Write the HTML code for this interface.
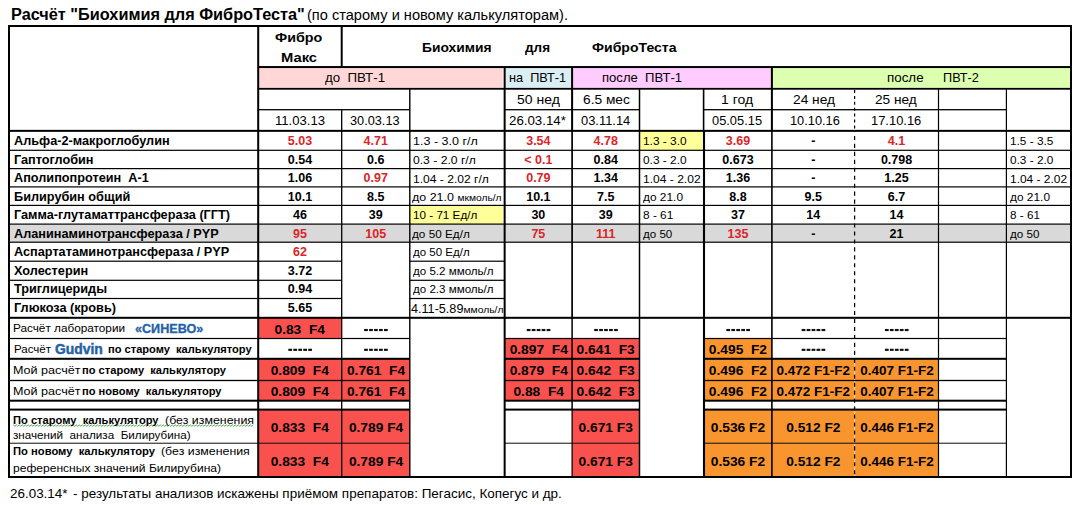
<!DOCTYPE html><html><head><meta charset="utf-8"><style>
html,body{margin:0;padding:0;background:#fff;}body{width:1079px;height:505px;position:relative;overflow:hidden;font-family:"Liberation Sans",sans-serif;}
.f,.l,.t{position:absolute;}.t{white-space:nowrap;line-height:1;}
.b{font-weight:bold;}small{font-size:82%;}
</style></head><body>
<svg class="f" style="left:0;top:0" width="1079" height="505" viewBox="0 0 1079 505">
<rect x="258.20" y="67.05" width="244.55" height="21.75" fill="#FFD7D7"/>
<rect x="504.65" y="67.05" width="67.45" height="21.75" fill="#DAEEF3"/>
<rect x="572.10" y="67.05" width="199.80" height="21.75" fill="#FFCCFF"/>
<rect x="771.90" y="67.05" width="299.10" height="21.75" fill="#DCFFB0"/>
<rect x="9.00" y="224.10" width="1062.00" height="18.10" fill="#D9D9D9"/>
<rect x="639.50" y="130.85" width="63.00" height="19.45" fill="#FFFF99"/>
<rect x="409.80" y="205.40" width="93.35" height="18.70" fill="#FFFF99"/>
<rect x="258.20" y="317.80" width="83.50" height="20.70" fill="#F9524E"/>
<rect x="504.65" y="338.50" width="134.85" height="20.30" fill="#F9524E"/>
<rect x="704.00" y="338.50" width="67.90" height="20.30" fill="#F9952F"/>
<rect x="258.20" y="358.80" width="151.60" height="21.70" fill="#F9524E"/>
<rect x="504.65" y="358.80" width="134.85" height="21.70" fill="#F9524E"/>
<rect x="704.00" y="358.80" width="234.50" height="21.70" fill="#F9952F"/>
<rect x="258.20" y="380.50" width="151.60" height="20.20" fill="#F9524E"/>
<rect x="504.65" y="380.50" width="134.85" height="20.20" fill="#F9524E"/>
<rect x="704.00" y="380.50" width="234.50" height="20.20" fill="#F9952F"/>
<rect x="258.20" y="409.60" width="151.60" height="33.60" fill="#F9524E"/>
<rect x="572.10" y="409.60" width="67.40" height="33.60" fill="#F9524E"/>
<rect x="704.00" y="409.60" width="234.50" height="33.60" fill="#F9952F"/>
<rect x="258.20" y="443.20" width="151.60" height="33.80" fill="#F9524E"/>
<rect x="572.10" y="443.20" width="67.40" height="33.80" fill="#F9524E"/>
<rect x="704.00" y="443.20" width="234.50" height="33.80" fill="#F9952F"/>
<rect x="364.13" y="328.95" width="3.75" height="2.15" fill="#111"/>
<rect x="369.11" y="328.95" width="3.75" height="2.15" fill="#111"/>
<rect x="374.07" y="328.95" width="3.75" height="2.15" fill="#111"/>
<rect x="379.05" y="328.95" width="3.75" height="2.15" fill="#111"/>
<rect x="384.01" y="328.95" width="3.75" height="2.15" fill="#111"/>
<rect x="526.76" y="328.95" width="3.75" height="2.15" fill="#111"/>
<rect x="531.73" y="328.95" width="3.75" height="2.15" fill="#111"/>
<rect x="536.70" y="328.95" width="3.75" height="2.15" fill="#111"/>
<rect x="541.67" y="328.95" width="3.75" height="2.15" fill="#111"/>
<rect x="546.64" y="328.95" width="3.75" height="2.15" fill="#111"/>
<rect x="594.18" y="328.95" width="3.75" height="2.15" fill="#111"/>
<rect x="599.15" y="328.95" width="3.75" height="2.15" fill="#111"/>
<rect x="604.12" y="328.95" width="3.75" height="2.15" fill="#111"/>
<rect x="609.09" y="328.95" width="3.75" height="2.15" fill="#111"/>
<rect x="614.06" y="328.95" width="3.75" height="2.15" fill="#111"/>
<rect x="726.34" y="328.95" width="3.75" height="2.15" fill="#111"/>
<rect x="731.31" y="328.95" width="3.75" height="2.15" fill="#111"/>
<rect x="736.28" y="328.95" width="3.75" height="2.15" fill="#111"/>
<rect x="741.25" y="328.95" width="3.75" height="2.15" fill="#111"/>
<rect x="746.22" y="328.95" width="3.75" height="2.15" fill="#111"/>
<rect x="801.63" y="328.95" width="3.75" height="2.15" fill="#111"/>
<rect x="806.61" y="328.95" width="3.75" height="2.15" fill="#111"/>
<rect x="811.58" y="328.95" width="3.75" height="2.15" fill="#111"/>
<rect x="816.54" y="328.95" width="3.75" height="2.15" fill="#111"/>
<rect x="821.51" y="328.95" width="3.75" height="2.15" fill="#111"/>
<rect x="884.93" y="328.95" width="3.75" height="2.15" fill="#111"/>
<rect x="889.90" y="328.95" width="3.75" height="2.15" fill="#111"/>
<rect x="894.88" y="328.95" width="3.75" height="2.15" fill="#111"/>
<rect x="899.84" y="328.95" width="3.75" height="2.15" fill="#111"/>
<rect x="904.81" y="328.95" width="3.75" height="2.15" fill="#111"/>
<rect x="288.33" y="348.75" width="3.75" height="2.15" fill="#111"/>
<rect x="293.31" y="348.75" width="3.75" height="2.15" fill="#111"/>
<rect x="298.27" y="348.75" width="3.75" height="2.15" fill="#111"/>
<rect x="303.25" y="348.75" width="3.75" height="2.15" fill="#111"/>
<rect x="308.21" y="348.75" width="3.75" height="2.15" fill="#111"/>
<rect x="364.13" y="348.75" width="3.75" height="2.15" fill="#111"/>
<rect x="369.11" y="348.75" width="3.75" height="2.15" fill="#111"/>
<rect x="374.07" y="348.75" width="3.75" height="2.15" fill="#111"/>
<rect x="379.05" y="348.75" width="3.75" height="2.15" fill="#111"/>
<rect x="384.01" y="348.75" width="3.75" height="2.15" fill="#111"/>
<rect x="801.63" y="348.75" width="3.75" height="2.15" fill="#111"/>
<rect x="806.61" y="348.75" width="3.75" height="2.15" fill="#111"/>
<rect x="811.58" y="348.75" width="3.75" height="2.15" fill="#111"/>
<rect x="816.54" y="348.75" width="3.75" height="2.15" fill="#111"/>
<rect x="821.51" y="348.75" width="3.75" height="2.15" fill="#111"/>
<rect x="884.93" y="348.75" width="3.75" height="2.15" fill="#111"/>
<rect x="889.90" y="348.75" width="3.75" height="2.15" fill="#111"/>
<rect x="894.88" y="348.75" width="3.75" height="2.15" fill="#111"/>
<rect x="899.84" y="348.75" width="3.75" height="2.15" fill="#111"/>
<rect x="904.81" y="348.75" width="3.75" height="2.15" fill="#111"/>
<rect x="258.20" y="66.05" width="812.80" height="2.00" fill="#000"/>
<rect x="258.20" y="87.90" width="812.80" height="1.80" fill="#000"/>
<rect x="258.20" y="109.05" width="151.60" height="1.30" fill="#000"/>
<rect x="504.65" y="109.05" width="134.85" height="1.30" fill="#000"/>
<rect x="704.00" y="109.05" width="302.40" height="1.30" fill="#000"/>
<rect x="9.00" y="129.85" width="1062.00" height="2.00" fill="#000"/>
<rect x="9.00" y="149.70" width="1062.00" height="1.20" fill="#000"/>
<rect x="9.00" y="168.00" width="1062.00" height="1.20" fill="#000"/>
<rect x="9.00" y="186.30" width="1062.00" height="1.20" fill="#000"/>
<rect x="9.00" y="204.80" width="1062.00" height="1.20" fill="#000"/>
<rect x="9.00" y="223.50" width="1062.00" height="1.20" fill="#000"/>
<rect x="9.00" y="241.60" width="1062.00" height="1.20" fill="#000"/>
<rect x="9.00" y="260.60" width="332.70" height="1.20" fill="#000"/>
<rect x="409.80" y="260.60" width="94.85" height="1.20" fill="#000"/>
<rect x="9.00" y="279.70" width="332.70" height="1.20" fill="#000"/>
<rect x="409.80" y="279.70" width="94.85" height="1.20" fill="#000"/>
<rect x="9.00" y="297.90" width="332.70" height="1.20" fill="#000"/>
<rect x="409.80" y="297.90" width="94.85" height="1.20" fill="#000"/>
<rect x="9.00" y="316.80" width="1062.00" height="2.00" fill="#000"/>
<rect x="9.00" y="337.90" width="400.80" height="1.20" fill="#000"/>
<rect x="504.65" y="337.90" width="134.85" height="1.20" fill="#000"/>
<rect x="704.00" y="337.90" width="302.40" height="1.20" fill="#000"/>
<rect x="9.00" y="357.80" width="400.80" height="2.00" fill="#000"/>
<rect x="504.65" y="357.80" width="134.85" height="2.00" fill="#000"/>
<rect x="704.00" y="357.80" width="302.40" height="2.00" fill="#000"/>
<rect x="9.00" y="379.85" width="400.80" height="1.30" fill="#000"/>
<rect x="504.65" y="379.85" width="134.85" height="1.30" fill="#000"/>
<rect x="704.00" y="379.85" width="302.40" height="1.30" fill="#000"/>
<rect x="9.00" y="399.70" width="400.80" height="2.00" fill="#000"/>
<rect x="504.65" y="399.70" width="134.85" height="2.00" fill="#000"/>
<rect x="704.00" y="399.70" width="302.40" height="2.00" fill="#000"/>
<rect x="9.00" y="408.60" width="400.80" height="2.00" fill="#000"/>
<rect x="504.65" y="408.60" width="134.85" height="2.00" fill="#000"/>
<rect x="704.00" y="408.60" width="302.40" height="2.00" fill="#000"/>
<rect x="9.00" y="442.72" width="400.80" height="0.95" fill="#000"/>
<rect x="504.65" y="442.72" width="134.85" height="0.95" fill="#000"/>
<rect x="704.00" y="442.72" width="302.40" height="0.95" fill="#000"/>
<rect x="257.20" y="26.00" width="2.00" height="451.00" fill="#000"/>
<rect x="340.70" y="26.00" width="2.00" height="41.05" fill="#000"/>
<rect x="341.05" y="109.70" width="1.30" height="367.30" fill="#000"/>
<rect x="409.10" y="88.80" width="1.40" height="388.20" fill="#000"/>
<rect x="503.65" y="67.05" width="2.00" height="409.95" fill="#000"/>
<rect x="571.10" y="67.05" width="2.00" height="63.80" fill="#000"/>
<rect x="571.25" y="130.85" width="1.70" height="186.95" fill="#000"/>
<rect x="571.35" y="317.80" width="1.50" height="91.80" fill="#000"/>
<rect x="571.48" y="409.60" width="1.25" height="67.40" fill="#000"/>
<rect x="638.75" y="88.80" width="1.50" height="388.20" fill="#000"/>
<rect x="702.80" y="88.80" width="1.60" height="42.05" fill="#000"/>
<rect x="702.95" y="130.85" width="2.10" height="346.15" fill="#000"/>
<rect x="770.90" y="67.05" width="2.00" height="63.80" fill="#000"/>
<rect x="771.10" y="130.85" width="1.60" height="346.15" fill="#000"/>
<line x1="854.60" y1="90.00" x2="854.60" y2="129.85" stroke="#000" stroke-width="1.20" stroke-dasharray="3 2.9"/>
<rect x="854.05" y="359.60" width="1.10" height="20.30" fill="#FBD6A6"/>
<rect x="854.05" y="381.30" width="1.10" height="18.80" fill="#FBD6A6"/>
<rect x="854.05" y="410.40" width="1.10" height="32.20" fill="#FBD6A6"/>
<rect x="854.05" y="444.00" width="1.10" height="32.40" fill="#FBD6A6"/>
<line x1="854.60" y1="135.90" x2="854.60" y2="477.00" stroke="#000" stroke-width="1.25" stroke-dasharray="4.1 3.86"/>
<rect x="937.90" y="88.80" width="1.20" height="388.20" fill="#000"/>
<rect x="1005.80" y="88.80" width="1.20" height="388.20" fill="#000"/>
<rect x="8.00" y="25.00" width="1064.00" height="2.00" fill="#000"/>
<rect x="8.00" y="476.00" width="1064.00" height="2.00" fill="#000"/>
<rect x="8.00" y="26.00" width="2.00" height="451.00" fill="#000"/>
<rect x="1070.00" y="26.00" width="2.00" height="451.00" fill="#000"/>
<polyline points="13.3,424.9 14.8,426.3 16.3,424.9 17.8,426.3 19.3,424.9 20.8,426.3 22.3,424.9 23.8,426.3 25.3,424.9 26.8,426.3 28.3,424.9 29.8,426.3 31.3,424.9 32.8,426.3 34.3,424.9 35.8,426.3 37.3,424.9 38.8,426.3 40.3,424.9 41.8,426.3 43.3,424.9 44.8,426.3 46.3,424.9 47.8,426.3 49.3,424.9 50.8,426.3 52.3,424.9 53.8,426.3 55.3,424.9 56.8,426.3 58.3,424.9 59.8,426.3 61.3,424.9 62.8,426.3 64.3,424.9 65.8,426.3 67.3,424.9 68.8,426.3 70.3,424.9 71.8,426.3 73.3,424.9 74.8,426.3 76.3,424.9 77.8,426.3 79.3,424.9 80.8,426.3 82.3,424.9 83.8,426.3 85.3,424.9 86.8,426.3 88.3,424.9 89.8,426.3 91.3,424.9 92.8,426.3 94.3,424.9 95.8,426.3 97.3,424.9 98.8,426.3 100.3,424.9 101.8,426.3 103.3,424.9 104.8,426.3 106.3,424.9 107.8,426.3 109.3,424.9 110.8,426.3 112.3,424.9 113.8,426.3 115.3,424.9 116.8,426.3 118.3,424.9 119.8,426.3 121.3,424.9 122.8,426.3 124.3,424.9 125.8,426.3 127.3,424.9 128.8,426.3 130.3,424.9 131.8,426.3 133.3,424.9 134.8,426.3 136.3,424.9 137.8,426.3 139.3,424.9 140.8,426.3 142.3,424.9 143.8,426.3 145.3,424.9 146.8,426.3 148.3,424.9 149.8,426.3 151.3,424.9 152.8,426.3 154.3,424.9 155.8,426.3 157.3,424.9 158.8,426.3 160.3,424.9 161.8,426.3 163.3,424.9 164.8,426.3 166.3,424.9 167.8,426.3 169.3,424.9 170.8,426.3 172.3,424.9 173.8,426.3 175.3,424.9 176.8,426.3 178.3,424.9 179.8,426.3 181.3,424.9 182.8,426.3 184.3,424.9 185.8,426.3 187.3,424.9 188.8,426.3 190.3,424.9 191.8,426.3 193.3,424.9 194.8,426.3 196.3,424.9 197.8,426.3 199.3,424.9 200.8,426.3 202.3,424.9 203.8,426.3 205.3,424.9 206.8,426.3 208.3,424.9 209.8,426.3 211.3,424.9 212.8,426.3 214.3,424.9 215.8,426.3 217.3,424.9 218.8,426.3 220.3,424.9 221.8,426.3 223.3,424.9 224.8,426.3 226.3,424.9 227.8,426.3 229.3,424.9 230.8,426.3 232.3,424.9 233.8,426.3 235.3,424.9 236.8,426.3 238.3,424.9 239.8,426.3 241.3,424.9 242.8,426.3 244.3,424.9 245.8,426.3 247.3,424.9 248.8,426.3 250.3,424.9 251.8,426.3 253.3,424.9" fill="none" stroke="#3f9a3f" stroke-width="0.9"/>
</svg>
<div class="t b" id="t0" style="font-size:16px;color:#000;left:10.90px;text-align:left;top:6.50px;transform:scaleX(1.0177);transform-origin:0 50%;">Расчёт "Биохимия для ФиброТеста"</div>
<div class="t" id="t1" style="font-size:14px;color:#000;left:307.40px;text-align:left;top:8.00px;transform:scaleX(1.0424);transform-origin:0 50%;">(по старому и новому калькуляторам).</div>
<div class="t b" id="t2" style="font-size:13.3px;color:#000;left:275.10px;text-align:left;top:30.85px;transform:scaleX(1.0754);transform-origin:0 50%;">Фибро</div>
<div class="t b" id="t3" style="font-size:13.3px;color:#000;left:281.35px;text-align:left;top:50.85px;transform:scaleX(1.1087);transform-origin:0 50%;">Макс</div>
<div class="t b" id="t4" style="font-size:13.3px;color:#000;left:421.60px;text-align:left;top:40.85px;transform:scaleX(1.0400);transform-origin:0 50%;">Биохимия</div>
<div class="t b" id="t5" style="font-size:13.3px;color:#000;left:524.60px;text-align:left;top:40.85px;transform:scaleX(1.0160);transform-origin:0 50%;">для</div>
<div class="t b" id="t6" style="font-size:13.3px;color:#000;left:592.10px;text-align:left;top:40.85px;transform:scaleX(1.0573);transform-origin:0 50%;">ФиброТеста</div>
<div class="t" id="t7" style="font-size:13px;color:#000;left:324.60px;text-align:left;top:71.00px;transform:scaleX(1.0232);transform-origin:0 50%;">до&nbsp;&nbsp;ПВТ-1</div>
<div class="t" id="t8" style="font-size:13px;color:#000;left:509.10px;text-align:left;top:71.00px;transform:scaleX(0.9789);transform-origin:0 50%;">на&nbsp;&nbsp;ПВТ-1</div>
<div class="t" id="t9" style="font-size:13px;color:#000;left:602.10px;text-align:left;top:71.00px;transform:scaleX(1.0073);transform-origin:0 50%;">после&nbsp;&nbsp;ПВТ-1</div>
<div class="t" id="t10" style="font-size:13px;color:#000;left:887.10px;text-align:left;top:71.00px;transform:scaleX(1.0283);transform-origin:0 50%;">после</div>
<div class="t" id="t11" style="font-size:13px;color:#000;left:942.60px;text-align:left;top:71.00px;transform:scaleX(0.9766);transform-origin:0 50%;">ПВТ-2</div>
<div class="t" id="t12" style="font-size:13px;color:#000;left:516.60px;text-align:left;top:93.00px;transform:scaleX(1.0759);transform-origin:0 50%;">50 нед</div>
<div class="t" id="t13" style="font-size:13px;color:#000;left:582.85px;text-align:left;top:93.00px;transform:scaleX(1.0550);transform-origin:0 50%;">6.5 мес</div>
<div class="t" id="t14" style="font-size:13px;color:#000;left:720.85px;text-align:left;top:93.00px;transform:scaleX(1.0745);transform-origin:0 50%;">1 год</div>
<div class="t" id="t15" style="font-size:13px;color:#000;left:793.35px;text-align:left;top:93.00px;transform:scaleX(1.0570);transform-origin:0 50%;">24 нед</div>
<div class="t" id="t16" style="font-size:13px;color:#000;left:875.35px;text-align:left;top:93.00px;transform:scaleX(1.0507);transform-origin:0 50%;">25 нед</div>
<div class="t" id="t17" style="font-size:13px;color:#000;left:274.60px;text-align:left;top:114.00px;transform:scaleX(1.0082);transform-origin:0 50%;">11.03.13</div>
<div class="t" id="t18" style="font-size:13px;color:#000;left:350.35px;text-align:left;top:114.00px;transform:scaleX(0.9791);transform-origin:0 50%;">30.03.13</div>
<div class="t" id="t19" style="font-size:13px;color:#000;left:509.10px;text-align:left;top:114.00px;transform:scaleX(1.0203);transform-origin:0 50%;">26.03.14*</div>
<div class="t" id="t20" style="font-size:13px;color:#000;left:581.35px;text-align:left;top:114.00px;transform:scaleX(0.9931);transform-origin:0 50%;">03.11.14</div>
<div class="t" id="t21" style="font-size:13px;color:#000;left:712.10px;text-align:left;top:114.00px;transform:scaleX(0.9889);transform-origin:0 50%;">05.05.15</div>
<div class="t" id="t22" style="font-size:13px;color:#000;left:789.60px;text-align:left;top:114.00px;transform:scaleX(0.9840);transform-origin:0 50%;">10.10.16</div>
<div class="t" id="t23" style="font-size:13px;color:#000;left:870.85px;text-align:left;top:114.00px;transform:scaleX(0.9939);transform-origin:0 50%;">17.10.16</div>
<div class="t b" id="t24" style="font-size:12.2px;color:#000;left:14.00px;text-align:left;top:134.90px;transform:scaleX(1.0420);transform-origin:0 50%;">Альфа-2-макроглобулин</div>
<div class="t b" id="t25" style="font-size:12.5px;color:#DB2428;left:258.20px;width:83.50px;text-align:center;top:134.75px;">5.03</div>
<div class="t b" id="t26" style="font-size:12.5px;color:#DB2428;left:341.70px;width:68.10px;text-align:center;top:134.75px;">4.71</div>
<div class="t" id="t27" style="font-size:11.2px;color:#000;left:412.60px;text-align:left;top:136.40px;transform:scaleX(1.1197);transform-origin:0 50%;">1.3 - 3.0 г/л</div>
<div class="t b" id="t28" style="font-size:12.5px;color:#DB2428;left:504.65px;width:67.45px;text-align:center;top:134.75px;">3.54</div>
<div class="t b" id="t29" style="font-size:12.5px;color:#DB2428;left:572.10px;width:67.40px;text-align:center;top:134.75px;">4.78</div>
<div class="t" id="t30" style="font-size:11.2px;color:#000;left:643.40px;text-align:left;top:136.40px;transform:scaleX(1.0622);transform-origin:0 50%;">1.3 - 3.0</div>
<div class="t b" id="t31" style="font-size:12.5px;color:#DB2428;left:704.00px;width:67.90px;text-align:center;top:134.75px;">3.69</div>
<div class="t b" id="t32" style="font-size:12.5px;color:#000;left:771.90px;width:82.70px;text-align:center;top:134.75px;">-</div>
<div class="t b" id="t33" style="font-size:12.5px;color:#DB2428;left:854.60px;width:83.90px;text-align:center;top:134.75px;">4.1</div>
<div class="t" id="t34" style="font-size:11.2px;color:#000;left:1010.10px;text-align:left;top:136.40px;transform:scaleX(1.0549);transform-origin:0 50%;">1.5 - 3.5</div>
<div class="t b" id="t35" style="font-size:12.2px;color:#000;left:14.00px;text-align:left;top:153.90px;transform:scaleX(1.0420);transform-origin:0 50%;">Гаптоглобин</div>
<div class="t b" id="t36" style="font-size:12.5px;color:#000;left:258.20px;width:83.50px;text-align:center;top:153.75px;">0.54</div>
<div class="t b" id="t37" style="font-size:12.5px;color:#000;left:341.70px;width:68.10px;text-align:center;top:153.75px;">0.6</div>
<div class="t" id="t38" style="font-size:11.2px;color:#000;left:412.60px;text-align:left;top:155.40px;transform:scaleX(1.0851);transform-origin:0 50%;">0.3 - 2.0 г/л</div>
<div class="t b" id="t39" style="font-size:12.5px;color:#DB2428;left:504.65px;width:67.45px;text-align:center;top:153.75px;">&lt; 0.1</div>
<div class="t b" id="t40" style="font-size:12.5px;color:#000;left:572.10px;width:67.40px;text-align:center;top:153.75px;">0.84</div>
<div class="t" id="t41" style="font-size:11.2px;color:#000;left:643.40px;text-align:left;top:155.40px;transform:scaleX(1.0622);transform-origin:0 50%;">0.3 - 2.0</div>
<div class="t b" id="t42" style="font-size:12.5px;color:#000;left:704.00px;width:67.90px;text-align:center;top:153.75px;">0.673</div>
<div class="t b" id="t43" style="font-size:12.5px;color:#000;left:771.90px;width:82.70px;text-align:center;top:153.75px;">-</div>
<div class="t b" id="t44" style="font-size:12.5px;color:#000;left:854.60px;width:83.90px;text-align:center;top:153.75px;">0.798</div>
<div class="t" id="t45" style="font-size:11.2px;color:#000;left:1010.10px;text-align:left;top:155.40px;transform:scaleX(1.0549);transform-origin:0 50%;">0.3 - 2.0</div>
<div class="t b" id="t46" style="font-size:12.2px;color:#000;left:14.00px;text-align:left;top:171.90px;transform:scaleX(1.0420);transform-origin:0 50%;">Аполипопротеин&nbsp; А-1</div>
<div class="t b" id="t47" style="font-size:12.5px;color:#000;left:258.20px;width:83.50px;text-align:center;top:171.75px;">1.06</div>
<div class="t b" id="t48" style="font-size:12.5px;color:#DB2428;left:341.70px;width:68.10px;text-align:center;top:171.75px;">0.97</div>
<div class="t" id="t49" style="font-size:11.2px;color:#000;left:412.60px;text-align:left;top:174.40px;transform:scaleX(1.0778);transform-origin:0 50%;">1.04 - 2.02 г/л</div>
<div class="t b" id="t50" style="font-size:12.5px;color:#DB2428;left:504.65px;width:67.45px;text-align:center;top:171.75px;">0.79</div>
<div class="t b" id="t51" style="font-size:12.5px;color:#000;left:572.10px;width:67.40px;text-align:center;top:171.75px;">1.34</div>
<div class="t" id="t52" style="font-size:11.2px;color:#000;left:643.40px;text-align:left;top:174.40px;transform:scaleX(1.0766);transform-origin:0 50%;">1.04 - 2.02</div>
<div class="t b" id="t53" style="font-size:12.5px;color:#000;left:704.00px;width:67.90px;text-align:center;top:171.75px;">1.36</div>
<div class="t b" id="t54" style="font-size:12.5px;color:#000;left:771.90px;width:82.70px;text-align:center;top:171.75px;">-</div>
<div class="t b" id="t55" style="font-size:12.5px;color:#000;left:854.60px;width:83.90px;text-align:center;top:171.75px;">1.25</div>
<div class="t" id="t56" style="font-size:11.2px;color:#000;left:1010.10px;text-align:left;top:174.40px;transform:scaleX(1.0673);transform-origin:0 50%;">1.04 - 2.02</div>
<div class="t b" id="t57" style="font-size:12.2px;color:#000;left:14.00px;text-align:left;top:190.90px;transform:scaleX(1.0420);transform-origin:0 50%;">Билирубин общий</div>
<div class="t b" id="t58" style="font-size:12.5px;color:#000;left:258.20px;width:83.50px;text-align:center;top:190.75px;">10.1</div>
<div class="t b" id="t59" style="font-size:12.5px;color:#000;left:341.70px;width:68.10px;text-align:center;top:190.75px;">8.5</div>
<div class="t" id="t60" style="font-size:11.2px;color:#000;left:412.10px;text-align:left;top:192.40px;transform:scaleX(1.1150);transform-origin:0 50%;">до 21.0 <small>мкмоль/л</small></div>
<div class="t b" id="t61" style="font-size:12.5px;color:#000;left:504.65px;width:67.45px;text-align:center;top:190.75px;">10.1</div>
<div class="t b" id="t62" style="font-size:12.5px;color:#000;left:572.10px;width:67.40px;text-align:center;top:190.75px;">7.5</div>
<div class="t" id="t63" style="font-size:11.2px;color:#000;left:642.70px;text-align:left;top:192.40px;transform:scaleX(1.0627);transform-origin:0 50%;">до 21.0</div>
<div class="t b" id="t64" style="font-size:12.5px;color:#000;left:704.00px;width:67.90px;text-align:center;top:190.75px;">8.8</div>
<div class="t b" id="t65" style="font-size:12.5px;color:#000;left:771.90px;width:82.70px;text-align:center;top:190.75px;">9.5</div>
<div class="t b" id="t66" style="font-size:12.5px;color:#000;left:854.60px;width:83.90px;text-align:center;top:190.75px;">6.7</div>
<div class="t" id="t67" style="font-size:11.2px;color:#000;left:1009.60px;text-align:left;top:192.40px;transform:scaleX(1.0627);transform-origin:0 50%;">до 21.0</div>
<div class="t b" id="t68" style="font-size:12.2px;color:#000;left:14.00px;text-align:left;top:208.90px;transform:scaleX(1.0420);transform-origin:0 50%;">Гамма-глутаматтрансфераза (ГГТ)</div>
<div class="t b" id="t69" style="font-size:12.5px;color:#000;left:258.20px;width:83.50px;text-align:center;top:208.75px;">46</div>
<div class="t b" id="t70" style="font-size:12.5px;color:#000;left:341.70px;width:68.10px;text-align:center;top:208.75px;">39</div>
<div class="t" id="t71" style="font-size:11.2px;color:#000;left:413.10px;text-align:left;top:210.40px;transform:scaleX(1.0442);transform-origin:0 50%;">10 - 71 Ед/л</div>
<div class="t b" id="t72" style="font-size:12.5px;color:#000;left:504.65px;width:67.45px;text-align:center;top:208.75px;">30</div>
<div class="t b" id="t73" style="font-size:12.5px;color:#000;left:572.10px;width:67.40px;text-align:center;top:208.75px;">39</div>
<div class="t" id="t74" style="font-size:11.2px;color:#000;left:643.40px;text-align:left;top:210.40px;transform:scaleX(1.0591);transform-origin:0 50%;">8 - 61</div>
<div class="t b" id="t75" style="font-size:12.5px;color:#000;left:704.00px;width:67.90px;text-align:center;top:208.75px;">37</div>
<div class="t b" id="t76" style="font-size:12.5px;color:#000;left:771.90px;width:82.70px;text-align:center;top:208.75px;">14</div>
<div class="t b" id="t77" style="font-size:12.5px;color:#000;left:854.60px;width:83.90px;text-align:center;top:208.75px;">14</div>
<div class="t" id="t78" style="font-size:11.2px;color:#000;left:1010.10px;text-align:left;top:210.40px;transform:scaleX(1.0486);transform-origin:0 50%;">8 - 61</div>
<div class="t b" id="t79" style="font-size:12.2px;color:#000;left:14.00px;text-align:left;top:227.90px;transform:scaleX(1.0420);transform-origin:0 50%;">Аланинаминотрансфераза / PYP</div>
<div class="t b" id="t80" style="font-size:12.5px;color:#DB2428;left:258.20px;width:83.50px;text-align:center;top:227.75px;">95</div>
<div class="t b" id="t81" style="font-size:12.5px;color:#DB2428;left:341.70px;width:68.10px;text-align:center;top:227.75px;">105</div>
<div class="t" id="t82" style="font-size:11.2px;color:#000;left:412.10px;text-align:left;top:229.40px;transform:scaleX(1.0500);transform-origin:0 50%;">до 50 Ед/л</div>
<div class="t b" id="t83" style="font-size:12.5px;color:#DB2428;left:504.65px;width:67.45px;text-align:center;top:227.75px;">75</div>
<div class="t b" id="t84" style="font-size:12.5px;color:#DB2428;left:572.10px;width:67.40px;text-align:center;top:227.75px;">111</div>
<div class="t" id="t85" style="font-size:11.2px;color:#000;left:642.70px;text-align:left;top:229.40px;transform:scaleX(1.0349);transform-origin:0 50%;">до 50</div>
<div class="t b" id="t86" style="font-size:12.5px;color:#DB2428;left:704.00px;width:67.90px;text-align:center;top:227.75px;">135</div>
<div class="t b" id="t87" style="font-size:12.5px;color:#000;left:771.90px;width:82.70px;text-align:center;top:227.75px;">-</div>
<div class="t b" id="t88" style="font-size:12.5px;color:#000;left:854.60px;width:83.90px;text-align:center;top:227.75px;">21</div>
<div class="t" id="t89" style="font-size:11.2px;color:#000;left:1009.60px;text-align:left;top:229.40px;transform:scaleX(1.0419);transform-origin:0 50%;">до 50</div>
<div class="t b" id="t90" style="font-size:12.2px;color:#000;left:14.00px;text-align:left;top:245.90px;transform:scaleX(1.0420);transform-origin:0 50%;">Аспартатаминотрансфераза / PYP</div>
<div class="t b" id="t91" style="font-size:12.5px;color:#DB2428;left:258.20px;width:83.50px;text-align:center;top:245.75px;">62</div>
<div class="t" id="t92" style="font-size:11.2px;color:#000;left:412.70px;text-align:left;top:247.40px;transform:scaleX(1.0282);transform-origin:0 50%;">до 50 Ед/л</div>
<div class="t b" id="t93" style="font-size:12.2px;color:#000;left:14.00px;text-align:left;top:264.90px;transform:scaleX(1.0420);transform-origin:0 50%;">Холестерин</div>
<div class="t b" id="t94" style="font-size:12.5px;color:#000;left:258.20px;width:83.50px;text-align:center;top:264.75px;">3.72</div>
<div class="t" id="t95" style="font-size:11.2px;color:#000;left:412.70px;text-align:left;top:266.40px;transform:scaleX(1.0350);transform-origin:0 50%;">до 5.2 ммоль/л</div>
<div class="t b" id="t96" style="font-size:12.2px;color:#000;left:14.00px;text-align:left;top:282.90px;transform:scaleX(1.0420);transform-origin:0 50%;">Триглицериды</div>
<div class="t b" id="t97" style="font-size:12.5px;color:#000;left:258.20px;width:83.50px;text-align:center;top:282.75px;">0.94</div>
<div class="t" id="t98" style="font-size:11.2px;color:#000;left:412.70px;text-align:left;top:284.40px;transform:scaleX(1.0350);transform-origin:0 50%;">до 2.3 ммоль/л</div>
<div class="t b" id="t99" style="font-size:12.2px;color:#000;left:14.00px;text-align:left;top:301.90px;transform:scaleX(1.0420);transform-origin:0 50%;">Глюкоза (кровь)</div>
<div class="t b" id="t100" style="font-size:12.5px;color:#000;left:258.20px;width:83.50px;text-align:center;top:301.75px;">5.65</div>
<div class="t" id="t101" style="font-size:12px;color:#000;left:410.50px;text-align:left;top:303.00px;transform:scaleX(1.0521);transform-origin:0 50%;">4.11-5.89<small>ммоль/л</small></div>
<div class="t" id="t102" style="font-size:11.3px;color:#000;left:12.85px;text-align:left;top:323.35px;transform:scaleX(1.0411);transform-origin:0 50%;">Расчёт лаборатории</div>
<div class="t b" id="t103" style="font-size:12.4px;color:#1F62A6;left:134.60px;text-align:left;top:322.80px;-webkit-text-stroke:0.3px #1F62A6;transform:scaleX(1.0173);transform-origin:0 50%;">«СИНЕВО»</div>
<div class="t" id="t104" style="font-size:11.3px;color:#000;left:13.85px;text-align:left;top:344.35px;transform:scaleX(1.0203);transform-origin:0 50%;">Расчёт</div>
<div class="t b" id="t105" style="font-size:13.8px;color:#1F62A6;left:54.60px;text-align:left;top:342.60px;-webkit-text-stroke:0.45px #1F62A6;transform:scaleX(1.0057);transform-origin:0 50%;">Gudvin</div>
<div class="t b" id="t106" style="font-size:11.4px;color:#000;left:107.60px;text-align:left;top:344.30px;transform:scaleX(0.9730);transform-origin:0 50%;">по старому&nbsp; калькулятору</div>
<div class="t" id="t107" style="font-size:11.3px;color:#000;left:12.85px;text-align:left;top:365.35px;transform:scaleX(1.1128);transform-origin:0 50%;">Мой расчёт</div>
<div class="t b" id="t108" style="font-size:11.4px;color:#000;left:82.10px;text-align:left;top:365.30px;transform:scaleX(0.9764);transform-origin:0 50%;">по старому&nbsp; калькулятору</div>
<div class="t" id="t109" style="font-size:11.3px;color:#000;left:12.85px;text-align:left;top:386.35px;transform:scaleX(1.1128);transform-origin:0 50%;">Мой расчёт</div>
<div class="t b" id="t110" style="font-size:11.4px;color:#000;left:82.10px;text-align:left;top:386.30px;transform:scaleX(0.9758);transform-origin:0 50%;">по новому&nbsp; калькулятору</div>
<div class="t b" id="t111" style="font-size:11.4px;color:#000;left:12.85px;text-align:left;top:415.30px;transform:scaleX(0.9779);transform-origin:0 50%;">По старому&nbsp; калькулятору</div>
<div class="t" id="t112" style="font-size:11.3px;color:#000;left:164.60px;text-align:left;top:415.35px;transform:scaleX(1.0968);transform-origin:0 50%;">(без изменения</div>
<div class="t" id="t113" style="font-size:11.3px;color:#000;left:12.85px;text-align:left;top:430.35px;transform:scaleX(1.0333);transform-origin:0 50%;">значений&nbsp; анализа&nbsp; Билирубина)</div>
<div class="t b" id="t114" style="font-size:11.4px;color:#000;left:12.85px;text-align:left;top:446.30px;transform:scaleX(0.9842);transform-origin:0 50%;">По новому&nbsp; калькулятору</div>
<div class="t" id="t115" style="font-size:11.3px;color:#000;left:160.85px;text-align:left;top:446.35px;transform:scaleX(1.0938);transform-origin:0 50%;">(без изменения</div>
<div class="t" id="t116" style="font-size:11.3px;color:#000;left:12.85px;text-align:left;top:463.35px;transform:scaleX(1.0670);transform-origin:0 50%;">референсных значений Билирубина)</div>
<div class="t b" id="t117" style="font-size:13.3px;color:#000;left:258.20px;width:83.50px;text-align:center;top:322.85px;transform:scaleX(1.0350);transform-origin:50% 50%;">0.83&nbsp; F4</div>
<div class="t b" id="t118" style="font-size:13.3px;color:#000;left:504.65px;width:67.45px;text-align:center;top:342.85px;transform:scaleX(1.0350);transform-origin:50% 50%;">0.897&nbsp; F4</div>
<div class="t b" id="t119" style="font-size:13.3px;color:#000;left:572.10px;width:67.40px;text-align:center;top:342.85px;transform:scaleX(1.0350);transform-origin:50% 50%;">0.641&nbsp; F3</div>
<div class="t b" id="t120" style="font-size:13.3px;color:#000;left:704.00px;width:67.90px;text-align:center;top:342.85px;transform:scaleX(1.0350);transform-origin:50% 50%;">0.495&nbsp; F2</div>
<div class="t b" id="t121" style="font-size:13.3px;color:#000;left:258.20px;width:83.50px;text-align:center;top:363.85px;transform:scaleX(1.0350);transform-origin:50% 50%;">0.809&nbsp; F4</div>
<div class="t b" id="t122" style="font-size:13.3px;color:#000;left:341.70px;width:68.10px;text-align:center;top:363.85px;transform:scaleX(1.0350);transform-origin:50% 50%;">0.761&nbsp; F4</div>
<div class="t b" id="t123" style="font-size:13.3px;color:#000;left:504.65px;width:67.45px;text-align:center;top:363.85px;transform:scaleX(1.0350);transform-origin:50% 50%;">0.879&nbsp; F4</div>
<div class="t b" id="t124" style="font-size:13.3px;color:#000;left:572.10px;width:67.40px;text-align:center;top:363.85px;transform:scaleX(1.0350);transform-origin:50% 50%;">0.642&nbsp; F3</div>
<div class="t b" id="t125" style="font-size:13.3px;color:#000;left:704.00px;width:67.90px;text-align:center;top:363.85px;transform:scaleX(1.0350);transform-origin:50% 50%;">0.496&nbsp; F2</div>
<div class="t b" id="t126" style="font-size:13.3px;color:#000;left:771.90px;width:82.70px;text-align:center;top:363.85px;transform:scaleX(1.0150);transform-origin:50% 50%;">0.472 F1-F2</div>
<div class="t b" id="t127" style="font-size:13.3px;color:#000;left:854.60px;width:83.90px;text-align:center;top:363.85px;transform:scaleX(1.0150);transform-origin:50% 50%;">0.407 F1-F2</div>
<div class="t b" id="t128" style="font-size:13.3px;color:#000;left:258.20px;width:83.50px;text-align:center;top:384.85px;transform:scaleX(1.0350);transform-origin:50% 50%;">0.809&nbsp; F4</div>
<div class="t b" id="t129" style="font-size:13.3px;color:#000;left:341.70px;width:68.10px;text-align:center;top:384.85px;transform:scaleX(1.0350);transform-origin:50% 50%;">0.761&nbsp; F4</div>
<div class="t b" id="t130" style="font-size:13.3px;color:#000;left:504.65px;width:67.45px;text-align:center;top:384.85px;transform:scaleX(1.0350);transform-origin:50% 50%;">0.88&nbsp; F4</div>
<div class="t b" id="t131" style="font-size:13.3px;color:#000;left:572.10px;width:67.40px;text-align:center;top:384.85px;transform:scaleX(1.0350);transform-origin:50% 50%;">0.642&nbsp; F3</div>
<div class="t b" id="t132" style="font-size:13.3px;color:#000;left:704.00px;width:67.90px;text-align:center;top:384.85px;transform:scaleX(1.0350);transform-origin:50% 50%;">0.496&nbsp; F2</div>
<div class="t b" id="t133" style="font-size:13.3px;color:#000;left:771.90px;width:82.70px;text-align:center;top:384.85px;transform:scaleX(1.0150);transform-origin:50% 50%;">0.472 F1-F2</div>
<div class="t b" id="t134" style="font-size:13.3px;color:#000;left:854.60px;width:83.90px;text-align:center;top:384.85px;transform:scaleX(1.0150);transform-origin:50% 50%;">0.407 F1-F2</div>
<div class="t b" id="t135" style="font-size:13.3px;color:#000;left:258.20px;width:83.50px;text-align:center;top:420.85px;transform:scaleX(1.0350);transform-origin:50% 50%;">0.833&nbsp; F4</div>
<div class="t b" id="t136" style="font-size:13.3px;color:#000;left:341.70px;width:68.10px;text-align:center;top:420.85px;transform:scaleX(1.0350);transform-origin:50% 50%;">0.789 F4</div>
<div class="t b" id="t137" style="font-size:13.3px;color:#000;left:572.10px;width:67.40px;text-align:center;top:420.85px;transform:scaleX(1.0350);transform-origin:50% 50%;">0.671 F3</div>
<div class="t b" id="t138" style="font-size:13.3px;color:#000;left:704.00px;width:67.90px;text-align:center;top:420.85px;transform:scaleX(1.0350);transform-origin:50% 50%;">0.536 F2</div>
<div class="t b" id="t139" style="font-size:13.3px;color:#000;left:771.90px;width:82.70px;text-align:center;top:420.85px;transform:scaleX(1.0350);transform-origin:50% 50%;">0.512 F2</div>
<div class="t b" id="t140" style="font-size:13.3px;color:#000;left:854.60px;width:83.90px;text-align:center;top:420.85px;transform:scaleX(1.0150);transform-origin:50% 50%;">0.446 F1-F2</div>
<div class="t b" id="t141" style="font-size:13.3px;color:#000;left:258.20px;width:83.50px;text-align:center;top:454.85px;transform:scaleX(1.0350);transform-origin:50% 50%;">0.833&nbsp; F4</div>
<div class="t b" id="t142" style="font-size:13.3px;color:#000;left:341.70px;width:68.10px;text-align:center;top:454.85px;transform:scaleX(1.0350);transform-origin:50% 50%;">0.789 F4</div>
<div class="t b" id="t143" style="font-size:13.3px;color:#000;left:572.10px;width:67.40px;text-align:center;top:454.85px;transform:scaleX(1.0350);transform-origin:50% 50%;">0.671 F3</div>
<div class="t b" id="t144" style="font-size:13.3px;color:#000;left:704.00px;width:67.90px;text-align:center;top:454.85px;transform:scaleX(1.0350);transform-origin:50% 50%;">0.536 F2</div>
<div class="t b" id="t145" style="font-size:13.3px;color:#000;left:771.90px;width:82.70px;text-align:center;top:454.85px;transform:scaleX(1.0350);transform-origin:50% 50%;">0.512 F2</div>
<div class="t b" id="t146" style="font-size:13.3px;color:#000;left:854.60px;width:83.90px;text-align:center;top:454.85px;transform:scaleX(1.0150);transform-origin:50% 50%;">0.446 F1-F2</div>
<div class="t" id="t147" style="font-size:12.2px;color:#000;left:10.20px;text-align:left;top:487.90px;transform:scaleX(1.1018);transform-origin:0 50%;">26.03.14*</div>
<div class="t" id="t148" style="font-size:12.2px;color:#000;left:72.90px;text-align:left;top:487.90px;transform:scaleX(1.1043);transform-origin:0 50%;">- результаты анализов искажены приёмом препаратов: Пегасис, Копегус и др.</div>
</body></html>
